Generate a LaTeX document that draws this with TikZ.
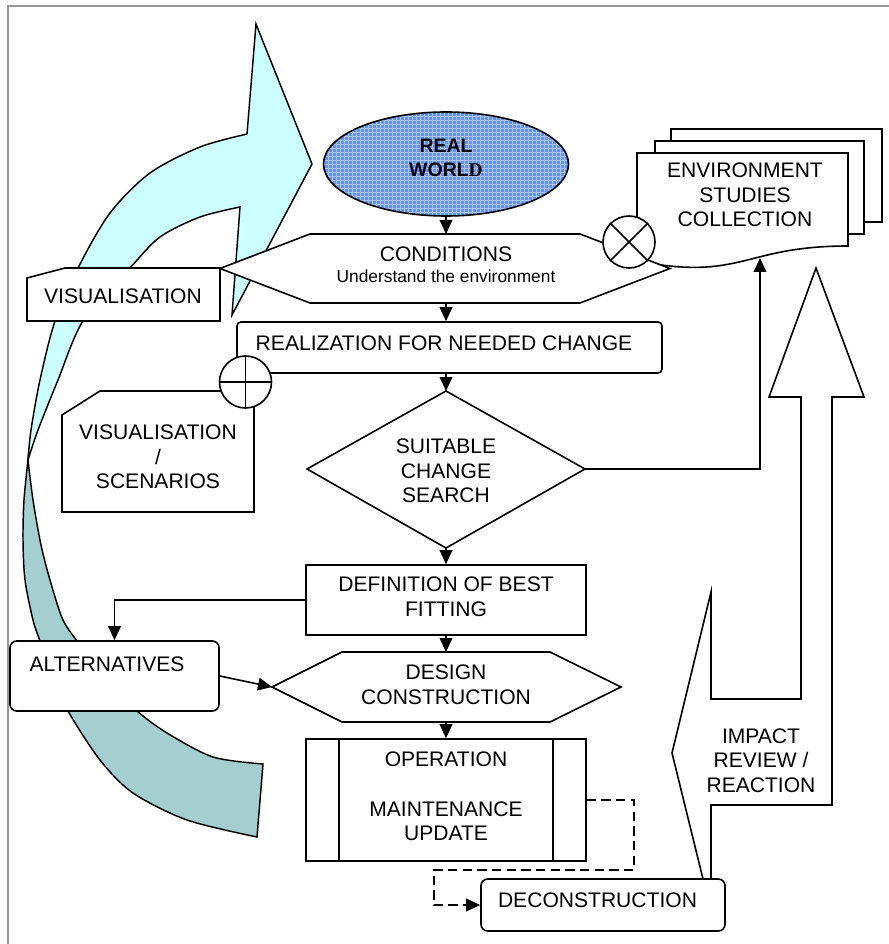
\documentclass[tikz,border=0pt]{standalone}
\usepackage{fontspec}
\setmainfont{Liberation Sans}
\newfontfamily\timesfam{Liberation Serif}
\usetikzlibrary{arrows.meta,shapes.geometric,patterns}

\definecolor{framegray}{HTML}{969696}
\definecolor{cyanband}{HTML}{CCFFFF}
\definecolor{tealband}{HTML}{A5CECE}
\definecolor{worldblue}{HTML}{6690F2}
\definecolor{gridblue}{HTML}{A8C4FF}

\begin{document}
\begin{tikzpicture}[x=0.75pt,y=-0.75pt,
  line width=1.2pt,
  outline/.style={draw=black, fill=white, line width=1.2pt},
  box/.style={outline, rectangle, inner sep=0pt},
  txt/.style={inner sep=0pt, font=\fontsize{15.8}{18.4}\selectfont, align=center},
  flow/.style={draw=black, line width=1.2pt, -{Triangle[length=10.5pt,width=9.5pt]}},
  dashflow/.style={flow, dash pattern=on 7pt off 4pt}
]
\useasboundingbox (0,0) rectangle (888,944);

% page frame
\draw[framegray, line width=1.1pt] (8,980) -- (8,6) -- (920,6);

% curved feedback arrow: dark back band
\draw[fill=tealband, line width=1.1pt]
  plot[smooth] coordinates {(28,460) (24,500) (23,540) (25,580) (33,620) (40,641) (52,675) (68,711) (100,760) (133,793) (187,820) (257,837)}
  -- (263,764)
  -- plot[smooth] coordinates {(263,764) (213,757) (167,733) (137,711) (105,680) (80,645) (63,620) (50,580) (41,545) (33,500) (28,460)}
  -- cycle;
% curved feedback arrow: light front band with head
\draw[fill=cyanband, line width=1.1pt]
  plot[smooth] coordinates {(247,134) (200,147) (150,173) (110,213) (78,268) (55,321) (40,380) (31,430) (28,460)}
  -- plot[smooth] coordinates {(28,460) (38,430) (58,380) (83,321) (130,268) (160,237) (200,217) (240,207)}
  -- (232,315) -- (312,164) -- (256,24) -- cycle;

% stacked documents
\draw[outline] (671,129) rectangle (882,222);
\draw[outline] (655,141) rectangle (864,234);
\draw[outline] (637,153) -- (848,153) -- (848,246)
  .. controls (742.5,246) and (742.5,281.5) .. (637,261) -- cycle;
\coordinate (envS) at (760,258);

% real world
\node[draw=black, line width=1.2pt, ellipse, inner sep=0pt,
      minimum width=183.75pt, minimum height=78pt,
      preaction={fill=worldblue}, pattern=grid, pattern color=gridblue]
      (world) at (446,164) {};

% conditions hexagon
\draw[outline] (220,268.5) -- (310,234) -- (580,234) -- (670,268.5) -- (580,303) -- (310,303) -- cycle;
\coordinate (condN) at (446,234);
\coordinate (condS) at (446,303);

% summing junction (x)
\node[circle, outline, minimum size=39pt, inner sep=0pt] (xjoin) at (629,242) {};
\draw (xjoin.north west) -- (xjoin.south east) (xjoin.north east) -- (xjoin.south west);

% visualisation
\draw[outline] (27,278) -- (65,268) -- (220,268) -- (220,321) -- (27,321) -- cycle;

% realization
\node[box, rounded corners=3pt, minimum width=318.75pt, minimum height=38.25pt] (realz) at (449.5,347.5) {};

% visualisation / scenarios
\draw[outline] (62,415) -- (100,391) -- (254,391) -- (254,512) -- (62,512) -- cycle;

% or junction (+)
\node[circle, outline, minimum size=39pt, inner sep=0pt] (pjoin) at (245.5,382) {};
\draw (pjoin.north) -- (pjoin.south) (pjoin.west) -- (pjoin.east);

% decision
\draw[outline] (446,391) -- (585,469) -- (446,548) -- (307,469) -- cycle;
\coordinate (diaN) at (446,391);
\coordinate (diaS) at (446,548);
\coordinate (diaE) at (585,469);

% definition
\node[box, minimum width=210pt, minimum height=52.5pt] (def) at (446,600) {};

% alternatives
\node[box, rounded corners=5pt, minimum width=156.75pt, minimum height=52.5pt] (alt) at (114.5,676) {};

% design hexagon
\draw[outline] (272,687) -- (342,652) -- (550,652) -- (621,687) -- (550,722) -- (342,722) -- cycle;
\coordinate (desW) at (272,687);
\coordinate (desN) at (446,652);
\coordinate (desS) at (446,722);

% operation (predefined process)
\node[box, minimum width=210pt, minimum height=91.5pt] (oper) at (446,800) {};
\draw ([xshift=25.5pt]oper.north west) -- ([xshift=25.5pt]oper.south west);
\draw ([xshift=-25.5pt]oper.north east) -- ([xshift=-25.5pt]oper.south east);

% impact review arrow
\draw[outline] (703,879) -- (672,753) -- (711,592) -- (711,699) -- (801,699) -- (801,397)
  -- (769,397) -- (816,268) -- (864,397) -- (832,397) -- (832,805) -- (711,805) -- (711,879) -- cycle;

% deconstruction
\node[box, rounded corners=5pt, minimum width=183pt, minimum height=39pt] (decon) at (603,905) {};

% labels
\node[txt, font=\fontsize{14.6}{18}\selectfont\bfseries] (worldtxt) at (446,158) {REAL\\WORL{\timesfam\bfseries D}};
\node[txt] (envtxt) at (745,195) {ENVIRONMENT\\STUDIES\\COLLECTION};
\node[txt, anchor=base] (condtxt) at (446,262) {CONDITIONS};
\node[inner sep=0pt, anchor=base, font=\fontsize{13}{15}\selectfont] (condsub) at (446,283) {Understand the environment};
\node[txt, anchor=base] (vistxt) at (123,304) {VISUALISATION};
\node[txt, anchor=base] (realztxt) at (444,350) {REALIZATION FOR NEEDED CHANGE};
\node[txt] (scentxt) at (158,457) {VISUALISATION\\/\\SCENARIOS};
\node[txt] (searchtxt) at (446,471) {SUITABLE\\CHANGE\\SEARCH};
\node[txt] (deftxt) at (446,597) {DEFINITION OF BEST\\FITTING};
\node[txt, anchor=base] (alttxt) at (107,671) {ALTERNATIVES};
\node[txt] (destxt) at (446,685) {DESIGN\\CONSTRUCTION};
\node[txt] (opertxt) at (446,796.5) {OPERATION\\~\\MAINTENANCE\\UPDATE};
\node[txt] (imptxt) at (761,760.5) {IMPACT\\REVIEW /\\REACTION};
\node[txt, anchor=base] (dectxt) at (597.5,907) {DECONSTRUCTION};

% connectors
\draw[flow] (world.south) -- (condN);
\draw[flow] (condS) -- (condS |- realz.north);
\draw[flow] (condS |- realz.south) -- (diaN);
\draw[flow] (diaS) -- (def.north);
\draw[flow] (def.south) -- (desN);
\draw[flow] (desS) -- (oper.north);
\draw[flow] (def.west) -| (alt.north);
\draw[flow] (alt.east) -- (desW);
\draw[flow] (diaE) -| (envS);
\draw[dashflow] (oper.east) -- ++(47,0) -- ++(0,70) -- ++(-200,0) |- (decon.west);

\end{tikzpicture}
\end{document}
